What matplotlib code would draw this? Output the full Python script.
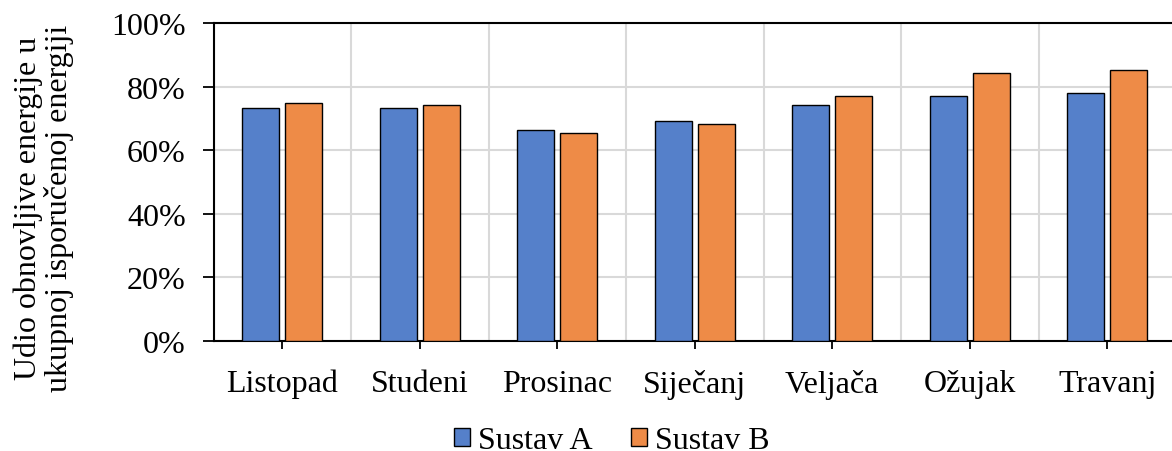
import numpy as np
import matplotlib.pyplot as plt
from matplotlib.ticker import PercentFormatter, FixedLocator

months = ['Listopad', 'Studeni', 'Prosinac', 'Siječanj', 'Veljača', 'Ožujak', 'Travanj']
sustav_a = [73.3, 73.3, 66.4, 69.2, 74.2, 77.1, 77.9]
sustav_b = [74.8, 74.2, 65.3, 68.2, 77.1, 84.4, 85.1]
y_ticks = [0, 20, 40, 60, 80, 100]

plt.rcParams['font.family'] = ['Liberation Serif', 'DejaVu Serif']
fs = 23

fig = plt.figure(figsize=(11.72, 4.52), dpi=100)
ax = fig.add_axes([213.5 / 1172, 1 - 342 / 452, (1176 - 213.5) / 1172, (342 - 24) / 452])

x = np.arange(len(months))
w = 0.27
off = 0.156
ax.bar(x - off, sustav_a, w, color='#5580CA', edgecolor='black', linewidth=1.0,
       label='Sustav A', zorder=3)
ax.bar(x + off, sustav_b, w, color='#EE8B47', edgecolor='black', linewidth=1.0,
       label='Sustav B', zorder=3)

ax.set_xlim(-0.5, len(months) - 0.5)
ax.set_ylim(0, 100)
ax.set_yticks(y_ticks)
ax.yaxis.set_major_formatter(PercentFormatter(decimals=0))
ax.set_xticks(x)
ax.set_xticklabels(months)
ax.xaxis.set_minor_locator(FixedLocator(np.arange(-0.5, len(months), 1.0)))

ax.grid(axis='y', which='major', color='#d9d9d9', linewidth=1.5, zorder=0)
ax.grid(axis='x', which='minor', color='#d9d9d9', linewidth=1.5, zorder=0)
ax.tick_params(axis='x', which='minor', length=0)
ax.tick_params(axis='x', which='major', length=6, width=1.3, direction='out',
               labelsize=fs, pad=14)
ax.tick_params(axis='y', length=8, width=1.3, direction='out', labelsize=fs, pad=12)

for side in ['left', 'bottom', 'top']:
    ax.spines[side].set_linewidth(1.5)
ax.spines['right'].set_visible(False)

ax.set_ylabel('Udio obnovljive energije u\nukupnoj isporučenoj energiji',
              fontsize=fs, linespacing=1.05)
# anchor is the right edge of the rotated label block
ax.yaxis.set_label_coords((74 - 213.5) / 962.5, (342 - 208) / 318)

ax.legend(loc='center', bbox_to_anchor=(612 / 1172, 1 - 442 / 452),
          bbox_transform=fig.transFigure, ncol=2, frameon=False, fontsize=fs,
          handlelength=0.5, handleheight=0.5, handletextpad=0.25,
          columnspacing=1.2, borderaxespad=0, borderpad=0)

fig.savefig('out.png', dpi=100)
